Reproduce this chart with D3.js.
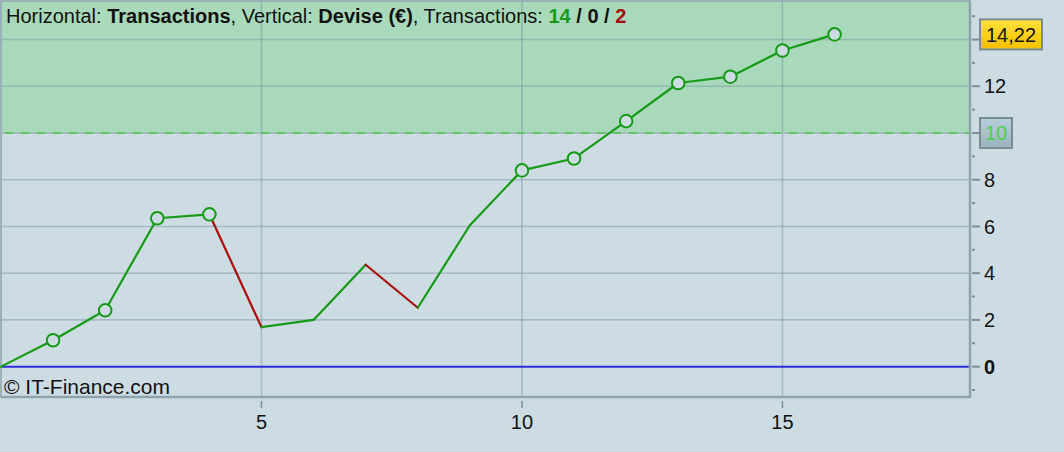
<!DOCTYPE html>
<html>
<head>
<meta charset="utf-8">
<script src="https://cdn.jsdelivr.net/npm/d3@7"></script>
<style>
  html, body { margin: 0; padding: 0; background: #cddce3; }
  svg { display: block; font-family: "Liberation Sans", Arial, Helvetica, sans-serif; }
</style>
</head>
<body>
<svg id="chart" width="1064" height="452"></svg>
<script>
// ---- data ----
const transactions = [0, 1, 2, 3, 4, 5, 6, 7, 8, 9, 10, 11, 12, 13, 14, 15, 16];
const equity = [0, 1.13, 2.41, 6.35, 6.52, 1.69, 2.0, 4.36, 2.52, 6.05, 8.40, 8.91, 10.51, 12.14, 12.41, 13.53, 14.22];
const xTicks = [5, 10, 15];
const yMajorTicks = [0, 2, 4, 6, 8, 12];
const yGridTicks = [2, 4, 6, 8, 10, 12, 14];
const yMinorTicks = [-1, 1, 3, 5, 7, 9, 11, 13, 15];
const targetLevel = 10;
const lastValue = 14.22;
const lastLabel = "14,22";
const winCount = 14, flatCount = 0, lossCount = 2;

// ---- layout ----
const W = 1064, H = 452;
const plot = { left: 1, right: 970, top: 1, bottom: 397 };

const svg = d3.select("#chart");
const x = d3.scaleLinear().domain([0, 18.6]).range([plot.left, plot.right]);
const y = d3.scaleLinear().domain([-1.3, 15.65]).range([plot.bottom, plot.top]);

// background
svg.append("rect").attr("x", 0).attr("y", 0).attr("width", W).attr("height", H).attr("fill", "#cddce3");

// green zone above target
svg.append("rect")
  .attr("x", plot.left).attr("y", plot.top)
  .attr("width", plot.right - plot.left)
  .attr("height", y(targetLevel) - plot.top)
  .attr("fill", "#a9d9bb");

// gridlines
const grid = svg.append("g");
grid.selectAll("line.h").data(yGridTicks).join("line")
  .attr("x1", plot.left).attr("x2", plot.right)
  .attr("y1", d => y(d)).attr("y2", d => y(d))
  .attr("stroke", "#6f8a96").attr("stroke-opacity", 0.4).attr("stroke-width", 1.6);
grid.selectAll("line.v").data(xTicks).join("line")
  .attr("y1", plot.top).attr("y2", plot.bottom)
  .attr("x1", d => x(d)).attr("x2", d => x(d))
  .attr("stroke", "#6f8a96").attr("stroke-opacity", 0.4).attr("stroke-width", 1.6);

// dashed target line
svg.append("line")
  .attr("x1", plot.left).attr("x2", plot.right)
  .attr("y1", y(targetLevel)).attr("y2", y(targetLevel))
  .attr("stroke", "#a9b9c0").attr("stroke-width", 1.6);
svg.append("line")
  .attr("x1", plot.left + 4).attr("x2", plot.right)
  .attr("y1", y(targetLevel)).attr("y2", y(targetLevel))
  .attr("stroke", "#44cc44").attr("stroke-width", 1.6)
  .attr("stroke-dasharray", "8,8");

// zero line
svg.append("line")
  .attr("x1", plot.left).attr("x2", plot.right)
  .attr("y1", y(0)).attr("y2", y(0))
  .attr("stroke", "#2b2bdc").attr("stroke-width", 2);

// plot border
svg.append("rect")
  .attr("x", plot.left).attr("y", plot.top)
  .attr("width", plot.right - plot.left).attr("height", plot.bottom - plot.top)
  .attr("fill", "none").attr("stroke", "#8ea3ad").attr("stroke-width", 1.5);
svg.append("line")
  .attr("x1", plot.right).attr("x2", plot.right)
  .attr("y1", plot.top).attr("y2", plot.bottom + 1)
  .attr("stroke", "#8ea3ad").attr("stroke-width", 2.5);
svg.append("line")
  .attr("x1", plot.left).attr("x2", plot.right)
  .attr("y1", plot.bottom).attr("y2", plot.bottom)
  .attr("stroke", "#8ea3ad").attr("stroke-width", 2.5);

// line segments colored by direction
const pts = transactions.map((t, i) => ({ t, v: equity[i] }));
const segs = d3.pairs(pts);
svg.append("g").selectAll("line").data(segs).join("line")
  .attr("x1", d => x(d[0].t)).attr("y1", d => y(d[0].v))
  .attr("x2", d => x(d[1].t)).attr("y2", d => y(d[1].v))
  .attr("stroke", d => d[1].v >= d[0].v ? "#159a15" : "#a80c0c")
  .attr("stroke-width", 2.2).attr("stroke-linecap", "round");

// markers at new highs
let runMax = 0;
const highs = pts.filter((p, i) => { if (i > 0 && p.v > runMax) { runMax = p.v; return true; } runMax = Math.max(runMax, p.v); return false; });
svg.append("g").selectAll("circle").data(highs).join("circle")
  .attr("cx", d => x(d.t)).attr("cy", d => y(d.v)).attr("r", 6.3)
  .attr("fill", "#cddce3").attr("stroke", "#159a15").attr("stroke-width", 2);

// right axis ticks
const axisR = svg.append("g");
axisR.selectAll("line.maj").data(yMajorTicks.concat([14, 10])).join("line")
  .attr("x1", plot.right + 2).attr("x2", plot.right + 10)
  .attr("y1", d => y(d)).attr("y2", d => y(d))
  .attr("stroke", "#7a8f99").attr("stroke-width", 2);
axisR.selectAll("line.min").data(yMinorTicks).join("line")
  .attr("x1", plot.right + 2).attr("x2", plot.right + 5)
  .attr("y1", d => y(d)).attr("y2", d => y(d))
  .attr("stroke", "#7a8f99").attr("stroke-width", 2);
axisR.selectAll("text").data(yMajorTicks).join("text")
  .attr("x", 984).attr("y", d => y(d)).attr("dy", "0.36em")
  .attr("font-size", 20)
  .attr("font-weight", d => d === 0 ? "bold" : "normal")
  .attr("fill", "#111")
  .text(d => d);

// badges
const defs = svg.append("defs");
const gY = defs.append("linearGradient").attr("id", "gy").attr("x1", 0).attr("y1", 0).attr("x2", 0).attr("y2", 1);
gY.append("stop").attr("offset", "0%").attr("stop-color", "#ffe23a");
gY.append("stop").attr("offset", "100%").attr("stop-color", "#f5bf00");
const gB = defs.append("linearGradient").attr("id", "gb").attr("x1", 0).attr("y1", 0).attr("x2", 0).attr("y2", 1);
gB.append("stop").attr("offset", "0%").attr("stop-color", "#b7cfd9");
gB.append("stop").attr("offset", "100%").attr("stop-color", "#9bb3be");

svg.append("rect").attr("x", 980).attr("y", y(lastValue) - 15).attr("width", 62).attr("height", 30)
  .attr("fill", "url(#gy)").attr("stroke", "#7a8c96").attr("stroke-width", 2);
svg.append("text").attr("x", 1011).attr("y", y(lastValue)).attr("dy", "0.36em")
  .attr("text-anchor", "middle").attr("font-size", 20).attr("fill", "#111").text(lastLabel);

svg.append("rect").attr("x", 980).attr("y", y(targetLevel) - 15).attr("width", 32).attr("height", 30)
  .attr("fill", "url(#gb)").attr("stroke", "#7a8c96").attr("stroke-width", 2);
svg.append("text").attr("x", 996).attr("y", y(targetLevel)).attr("dy", "0.36em")
  .attr("text-anchor", "middle").attr("font-size", 20).attr("fill", "#4ccf4c").text(targetLevel);

// bottom axis ticks
const axisB = svg.append("g");
axisB.selectAll("line").data(xTicks).join("line")
  .attr("x1", d => x(d)).attr("x2", d => x(d))
  .attr("y1", plot.bottom + 4).attr("y2", plot.bottom + 11)
  .attr("stroke", "#7a8f99").attr("stroke-width", 1.5);
axisB.selectAll("text").data(xTicks).join("text")
  .attr("x", d => x(d)).attr("y", 422).attr("dy", "0.36em")
  .attr("text-anchor", "middle").attr("font-size", 20).attr("fill", "#111")
  .text(d => d);

// title
const title = svg.append("text").attr("x", 6).attr("y", 23).attr("font-size", 20).attr("fill", "#111");
title.append("tspan").text("Horizontal: ");
title.append("tspan").attr("font-weight", "bold").text("Transactions");
title.append("tspan").text(", Vertical: ");
title.append("tspan").attr("font-weight", "bold").text("Devise (€)");
title.append("tspan").text(", Transactions: ");
title.append("tspan").attr("font-weight", "bold").attr("fill", "#159a15").text(winCount);
title.append("tspan").attr("font-weight", "bold").text(" / " + flatCount + " / ");
title.append("tspan").attr("font-weight", "bold").attr("fill", "#a80c0c").text(lossCount);

// watermark
svg.append("text").attr("x", 4).attr("y", 394).attr("font-size", 21).attr("fill", "#111").text("© IT-Finance.com");
</script>
</body>
</html>
